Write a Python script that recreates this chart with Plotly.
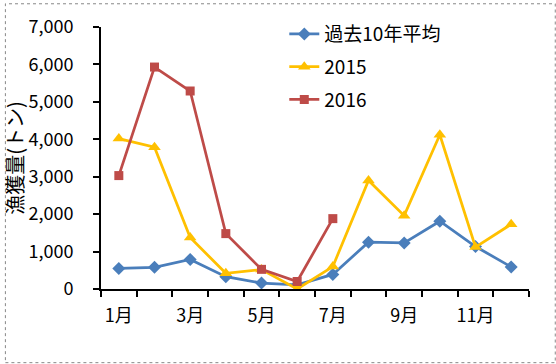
import plotly.graph_objects as go

months = ["1月", "2月", "3月", "4月", "5月", "6月", "7月", "8月", "9月", "10月", "11月", "12月"]
avg10 = [550, 580, 790, 330, 160, 110, 390, 1250, 1230, 1810, 1135, 590]
y2015 = [4020, 3790, 1375, 420, 520, 0, 600, 2900, 1960, 4120, 1120, 1730]
y2016 = [3030, 5930, 5290, 1480, 525, 200, 1880]
yticks = [0, 1000, 2000, 3000, 4000, 5000, 6000, 7000]

xs = list(range(1, len(months) + 1))
FONT = "Noto Sans CJK JP, sans-serif"

fig = go.Figure()
fig.add_trace(go.Scatter(x=xs, y=avg10, name="過去10年平均", mode="lines+markers",
                         line=dict(color="#4A7EBB", width=2.75),
                         marker=dict(symbol="diamond", size=10, color="#4A7EBB"),
                         legendgroup="a"))
fig.add_trace(go.Scatter(x=xs, y=y2015, name="2015", mode="lines+markers",
                         line=dict(color="#FFC000", width=2.75),
                         marker=dict(symbol="triangle-up", size=11, color="#FFC000"),
                         legendgroup="b"))
fig.add_trace(go.Scatter(x=xs[:len(y2016)], y=y2016, name="2016", mode="lines+markers",
                         line=dict(color="#BE4B48", width=2.75),
                         marker=dict(symbol="square", size=9, color="#BE4B48"),
                         legendgroup="c"))

W, H = 556, 364
ml, mr, mt, mb = 97, 27, 24, 75
pw, ph = W - ml - mr, H - mt - mb

fig.update_layout(
    width=W, height=H,
    margin=dict(l=ml, r=mr, t=mt, b=mb),
    paper_bgcolor="white", plot_bgcolor="white",
    font=dict(family=FONT, size=18, color="black"),
    showlegend=True,
    legend=dict(x=(282 - ml) / pw, y=(H - mb - 12) / ph, xanchor="left", yanchor="top",
                bgcolor="rgba(0,0,0,0)", font=dict(size=19), tracegroupgap=5,
                itemwidth=30),
    xaxis=dict(range=[0.5, 12.5], showgrid=False, zeroline=False,
               showline=True, linecolor="black", linewidth=2,
               tickvals=xs[::2], ticktext=months[::2], ticks="",
               ticklabelstandoff=9,
               minor=dict(tick0=0.5, dtick=1, ticks="outside", ticklen=6,
                          tickwidth=2, tickcolor="black", showgrid=False),
               tickfont=dict(size=18)),
    yaxis=dict(range=[0, 7000], showgrid=False, zeroline=False,
               showline=True, linecolor="black", linewidth=2,
               tickvals=yticks, ticktext=[f"{v:,}" for v in yticks],
               ticks="outside", ticklen=6, tickwidth=2, tickcolor="black",
               ticklabelstandoff=16,
               tickfont=dict(size=18),
               title=dict(text="漁獲量(トン)", font=dict(size=20), standoff=2)),
    shapes=[dict(type="rect", xref="paper", yref="paper",
                 x0=(-ml + 0.5) / pw, x1=(W - ml - 0.5) / pw,
                 y0=(-mb + 0.5) / ph, y1=(H - mb - 0.5) / ph,
                 line=dict(color="#888888", width=1, dash="dot"))],
)

fig.write_html("out.html", config={"displayModeBar": False},
               post_script="document.body.style.margin='0';document.body.style.overflow='hidden';")
